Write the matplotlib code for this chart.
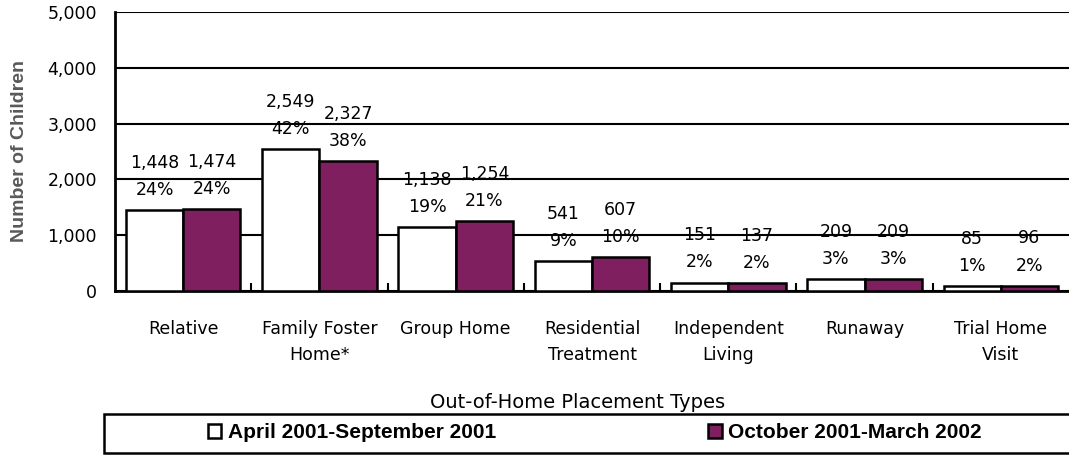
import matplotlib.pyplot as plt
import numpy as np
from matplotlib.patches import Rectangle

categories = ['Relative', 'Family Foster\nHome*', 'Group Home', 'Residential\nTreatment',
              'Independent\nLiving', 'Runaway', 'Trial Home\nVisit']
period1 = [1448, 2549, 1138, 541, 151, 209, 85]
period2 = [1474, 2327, 1254, 607, 137, 209, 96]
pct1 = ['24%', '42%', '19%', '9%', '2%', '3%', '1%']
pct2 = ['24%', '38%', '21%', '10%', '2%', '3%', '2%']
series_names = ['April 2001-September 2001', 'October 2001-March 2002']
yticks = [0, 1000, 2000, 3000, 4000, 5000]

purple = '#7f1f5f'

fig = plt.figure(figsize=(10.69, 4.55), dpi=100)
ax = fig.add_axes([115/1069, 1-291/455, 954/1069, 279/455])

x = np.arange(len(categories))
w = 0.42
b1 = ax.bar(x-w/2, period1, w, color='white', edgecolor='black', linewidth=1.8, zorder=3, label=series_names[0])
b2 = ax.bar(x+w/2, period2, w, color=purple, edgecolor='black', linewidth=1.8, zorder=3, label=series_names[1])

# value + percent labels above each bar
for bars, vals, pcts in [(b1, period1, pct1), (b2, period2, pct2)]:
    for r, v, p in zip(bars, vals, pcts):
        cx = r.get_x()+r.get_width()/2
        ax.annotate(f'{v:,}', (cx, v), xytext=(0, 34), textcoords='offset points',
                    ha='center', va='center', fontsize=12.5, zorder=5)
        ax.annotate(p, (cx, v), xytext=(0, 14.5), textcoords='offset points',
                    ha='center', va='center', fontsize=12.5, zorder=5)

ax.set_xlim(-0.5, len(categories)-0.5)
ax.set_ylim(0, 5000)
ax.set_yticks(yticks)
ax.set_yticklabels([f'{t:,}' for t in yticks], fontsize=12.5)
ax.yaxis.grid(True, color='black', linewidth=1.5, zorder=0)
ax.tick_params(axis='y', length=0, pad=13)

# category labels, small ticks between groups
ax.set_xticks(x)
ax.set_xticklabels(categories, fontsize=12.5, linespacing=1.57)
ax.tick_params(axis='x', length=0, pad=21)
ax.set_xticks(np.arange(len(categories)-1)+0.5, minor=True)
ax.tick_params(axis='x', which='minor', direction='in', length=6, width=1.5)

for s in ['top', 'right']:
    ax.spines[s].set_visible(False)
for s in ['left', 'bottom']:
    ax.spines[s].set_linewidth(2)

ax.set_ylabel('Number of Children', fontsize=14, fontweight='bold', color='#595959',
              family='Liberation Sans')
ax.yaxis.set_label_coords((28-115)/954, 0.5)
fig.text(578/1069, 1-402/455, 'Out-of-Home Placement Types', ha='center', va='center', fontsize=14)

# legend box
fig.add_artist(Rectangle((104/1069, 2/455), 966/1069, 39/455, transform=fig.transFigure,
                         fill=False, edgecolor='black', linewidth=1.8))
leg = fig.legend(handles=[b1, b2], loc='center left', bbox_to_anchor=(189.5/1069, 1-433/455),
                 ncol=2, frameon=False, handlelength=0.63, handleheight=0.63, handletextpad=0.3,
                 columnspacing=10.2, prop={'family': 'Liberation Sans', 'weight': 'bold', 'size': 15})

fig.savefig('out.png', dpi=100)
